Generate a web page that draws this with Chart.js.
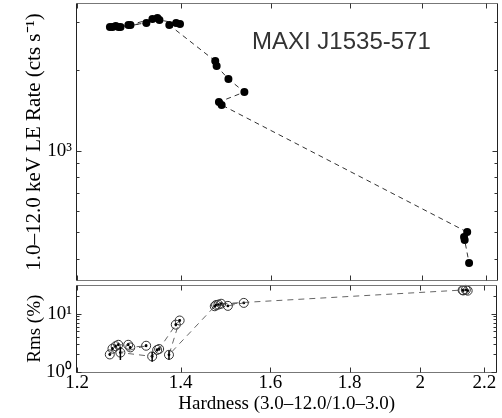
<!DOCTYPE html>
<html>
<head>
<meta charset="utf-8">
<script src="https://cdn.jsdelivr.net/npm/chart.js@4/dist/chart.umd.min.js"></script>
<style>
  html, body { margin: 0; padding: 0; background: #fff; }
  #wrap { position: relative; width: 502px; height: 418px; overflow: hidden; }
  #topPanel { position: absolute; left: 0; top: 0; }
  #bottomPanel { position: absolute; left: 0; top: 280px; }
</style>
</head>
<body>
<div id="wrap">
  <canvas id="topPanel" width="502" height="284"></canvas>
  <canvas id="bottomPanel" width="502" height="138"></canvas>
</div>
<script>
// Observations in time order
const hardness = [1.260, 1.265, 1.271, 1.276, 1.295, 1.299, 1.330, 1.280, 1.342, 1.352, 1.356, 1.390, 1.398, 1.376,
                  1.473, 1.476, 1.502, 1.538, 1.481, 1.487, 2.140, 2.130, 2.132, 2.146];
const leRate   = [2880, 2880, 2904, 2880, 2929, 2929, 2979, 2880, 3083, 3110, 3057, 2979, 2954, 2929,
                  2154, 2064, 1848, 1654, 1519, 1481, 501, 480, 468, 385];
const rms      = [2.00, 2.51, 2.77, 2.93, 2.93, 2.64, 2.82, 2.15, 1.85, 2.39, 2.48, 6.48, 7.64, 1.97,
                  13.4, 14.1, 13.6, 15.3, 14.3, 14.8, 25.6, 25.3, 25.0, 24.8];
const rmsErr   = [0.10, 0.15, 0.15, 0.15, 0.15, 0.15, 0.15, 0.55, 0.35, 0.15, 0.15, 0.40, 0.40, 0.35,
                  0.40, 0.40, 0.40, 0.40, 0.40, 0.40, 0.80, 0.80, 0.80, 0.80];

// Axis ticks
const hardnessTicks = [1.2, 1.4, 1.6, 1.8, 2.0, 2.2];
const hardnessTickLabels = ['1.2', '1.4', '1.6', '1.8', '2', '2.2'];
const rateTicks = [400, 500, 600, 700, 800, 900, 1000, 2000, 3000];
const rateTickLabels = { 1000: '10³' };
const rmsTicks = [1, 2, 3, 4, 5, 6, 7, 8, 9, 10, 20];
const rmsTickLabels = { 1: '10⁰', 10: '10¹' };

const SERIF = '"Liberation Serif", "Times New Roman", serif';
const HMIN = 1.2, HMAX = 2.24;

// Box frame plus inward tick marks on every side
const frameTicks = {
  id: 'frameTicks',
  afterDraw(chart, args, opts) {
    const { ctx, chartArea: a, scales } = chart;
    ctx.save();
    ctx.lineWidth = 1;
    const L = Math.round(a.left) - 0.5, R = Math.round(a.right) - 0.5;
    const T = Math.round(a.top) - 0.5, B = Math.round(a.bottom) + 0.5;
    ctx.strokeStyle = '#777';
    ctx.beginPath();
    ctx.moveTo(L, T); ctx.lineTo(R, T); ctx.moveTo(L, B); ctx.lineTo(R, B);
    ctx.stroke();
    ctx.strokeStyle = '#222';
    ctx.beginPath();
    ctx.moveTo(L, T); ctx.lineTo(L, B); ctx.moveTo(R, T); ctx.lineTo(R, B);
    ctx.stroke();
    ctx.strokeStyle = '#333';
    ctx.beginPath();
    hardnessTicks.forEach(v => {
      const x = Math.round(scales.x.getPixelForValue(v)) + 0.5;
      ctx.moveTo(x, T); ctx.lineTo(x, T + 5);
      ctx.moveTo(x, B); ctx.lineTo(x, B - 5);
    });
    opts.yTicks.forEach(v => {
      const y = Math.round(scales.y.getPixelForValue(v)) + 0.5;
      const len = opts.yLabels[v] ? 5 : 3;
      ctx.moveTo(L, y); ctx.lineTo(L + len, y);
      ctx.moveTo(R, y); ctx.lineTo(R - len, y);
    });
    ctx.stroke();
    ctx.restore();
  }
};

// Source name in the upper panel
const sourceLabel = {
  id: 'sourceLabel',
  afterDraw(chart) {
    const { ctx } = chart;
    ctx.save();
    ctx.font = '24px "Liberation Sans", Arial, sans-serif';
    ctx.fillStyle = '#333';
    ctx.textAlign = 'left';
    ctx.textBaseline = 'middle';
    ctx.fillText('MAXI J1535-571', 252, 42);
    ctx.restore();
  }
};

// Vertical error bars on the rms points
const errorBars = {
  id: 'errorBars',
  afterDatasetsDraw(chart) {
    const { ctx, scales } = chart;
    ctx.save();
    ctx.strokeStyle = '#000';
    ctx.lineWidth = 1.5;
    ctx.beginPath();
    hardness.forEach((h, i) => {
      const x = scales.x.getPixelForValue(h);
      ctx.moveTo(x, scales.y.getPixelForValue(rms[i] - rmsErr[i]));
      ctx.lineTo(x, scales.y.getPixelForValue(rms[i] + rmsErr[i]));
    });
    ctx.stroke();
    ctx.restore();
  }
};

function yAxis(min, max, ticks, labels, title, titleSize, titlePad) {
  return {
    type: 'logarithmic',
    min, max,
    afterFit: s => { s.width = 77; s.paddingTop = 0; s.paddingBottom = 0; },
    afterBuildTicks: s => { s.ticks = ticks.map(v => ({ value: v })); },
    grid: { display: false, drawTicks: false },
    border: { display: false },
    ticks: {
      autoSkip: false,
      padding: 5,
      color: '#000',
      font: { family: SERIF, size: 19 },
      callback: v => labels[v] || ''
    },
    title: {
      display: true,
      text: title,
      color: '#000',
      font: { family: SERIF, size: titleSize },
      padding: { top: titlePad, bottom: 0 }
    }
  };
}

Chart.defaults.animation = false;

new Chart(document.getElementById('topPanel'), {
  type: 'scatter',
  data: {
    datasets: [{
      data: hardness.map((h, i) => ({ x: h, y: leRate[i] })),
      showLine: true,
      borderColor: '#333',
      borderWidth: 1,
      borderDash: [5, 4],
      pointRadius: 4,
      pointBackgroundColor: '#000',
      pointBorderColor: '#000',
      pointBorderWidth: 0,
      clip: false
    }]
  },
  options: {
    responsive: false,
    layout: { padding: { top: 4, bottom: 4, left: 0, right: 0 } },
    plugins: {
      legend: { display: false },
      tooltip: { enabled: false },
      frameTicks: { yTicks: rateTicks, yLabels: rateTickLabels }
    },
    scales: {
      x: { type: 'logarithmic', min: HMIN, max: HMAX, display: false },
      y: yAxis(333, 3504, rateTicks, rateTickLabels, '1.0–12.0 keV LE Rate (cts s⁻¹)', 21, 22)
    }
  },
  plugins: [frameTicks, sourceLabel]
});

new Chart(document.getElementById('bottomPanel'), {
  type: 'scatter',
  data: {
    datasets: [{
      data: hardness.map((h, i) => ({ x: h, y: rms[i] })),
      showLine: true,
      borderColor: '#666',
      borderWidth: 1,
      borderDash: [6, 5],
      pointRadius: 4.5,
      pointBackgroundColor: 'rgba(255,255,255,0)',
      pointBorderColor: '#333',
      pointBorderWidth: 1,
      clip: false
    }, {
      data: hardness.map((h, i) => ({ x: h, y: rms[i] })),
      showLine: false,
      pointRadius: 1.4,
      pointBackgroundColor: '#000',
      pointBorderWidth: 0,
      clip: false
    }]
  },
  options: {
    responsive: false,
    layout: { padding: { top: 3, bottom: 0, left: 0, right: 0 } },
    plugins: {
      legend: { display: false },
      tooltip: { enabled: false },
      frameTicks: { yTicks: rmsTicks, yLabels: rmsTickLabels }
    },
    scales: {
      x: {
        type: 'logarithmic',
        min: HMIN, max: HMAX,
        afterFit: s => { s.height = 46; s.paddingLeft = 0; s.paddingRight = 0; },
        afterBuildTicks: s => { s.ticks = hardnessTicks.map(v => ({ value: v })); },
        grid: { display: false, drawTicks: false },
        border: { display: false },
        ticks: {
          autoSkip: false,
          maxRotation: 0,
          padding: 0,
          color: '#000',
          font: { family: SERIF, size: 19 },
          callback: (v, i) => hardnessTickLabels[i]
        },
        title: {
          display: true,
          text: 'Hardness (3.0–12.0/1.0–3.0)',
          color: '#000',
          font: { family: SERIF, size: 19 },
          padding: { top: 0, bottom: 3 }
        }
      },
      y: yAxis(1, 30.4, rmsTicks, rmsTickLabels, 'Rms (%)', 19, 24)
    }
  },
  plugins: [frameTicks, errorBars]
});
</script>
</body>
</html>
